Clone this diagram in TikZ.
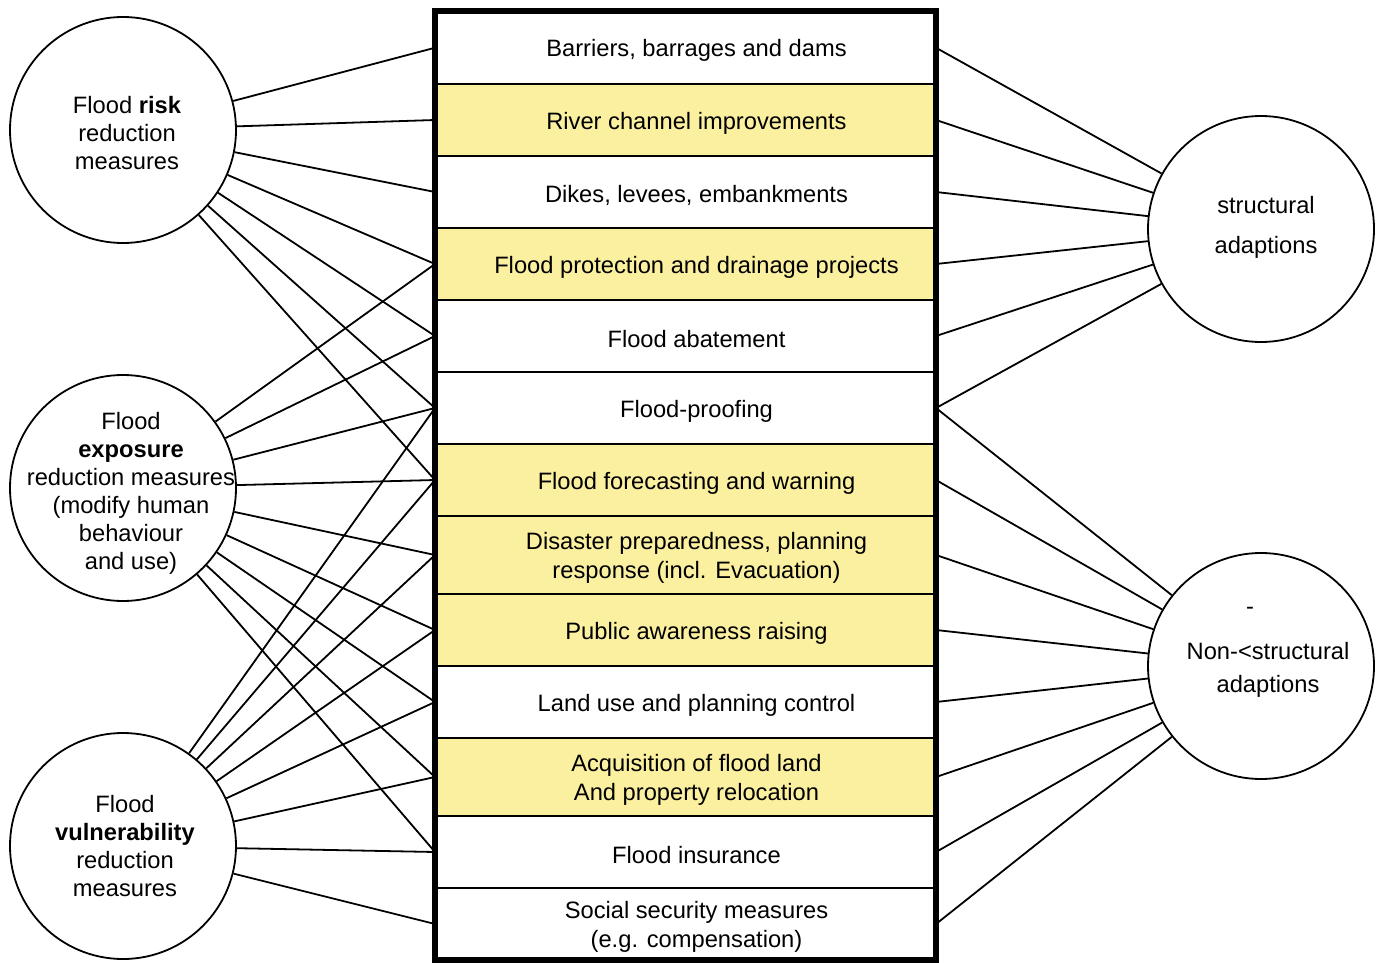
\documentclass[tikz,border=0pt]{standalone}
\usepackage{fontspec}
\setmainfont{Liberation Sans}
\begin{document}
\begin{tikzpicture}[x=1pt,y=-1pt,
  bubble/.style={circle, draw, line width=1.8pt, minimum size=226pt, inner sep=0pt},
  bubbletext/.style={align=center, inner sep=0pt, font=\fontsize{23.7pt}{28pt}\selectfont},
  row/.style={draw, line width=2.2pt, fill=white, minimum width=501pt, inner sep=0pt, outer sep=0pt},
  hirow/.style={row, fill=custcol_fb_f0_a0},
  rowtext/.style={align=center, inner sep=0pt, xshift=11pt, yshift=-3pt, font=\fontsize{23.7pt}{29pt}\selectfont},
  link/.style={line width=1.8pt}]
				\definecolor{custcol_fb_f0_a0}{RGB}{251, 240, 160}
				\useasboundingbox (0,0) rectangle (1379,963);
				% circles
				\node[bubble] (risk) at (123,130) {};
				\node[bubble] (expo) at (123,488) {};
				\node[bubble] (vuln) at (123,846) {};
				\node[bubble] (struct) at (1261,229) {};
				\node[bubble] (nonstruct) at (1261,666) {};
				\node[bubbletext] (risktxt) at (127,133) {Flood \textbf{risk}\\reduction\\measures};
				\node[bubbletext] (expotxt) at (131,493) {Flood\\\textbf{exposure}\\reduction measures\\(modify human\\behaviour\\and use)};
				\node[bubbletext] (vulntxt) at (125,846) {Flood\\\textbf{vulnerability}\\reduction\\measures};
				\node[bubbletext] (structtxt) at (1266,227) {structural\\[12pt]adaptions};
				\node[bubbletext] (nonstructtxt) at (1268,652) {\makebox[0pt]{-\hspace{36pt}}\\[17pt]Non-<structural\\[5pt]adaptions};
				% measures column
				\node[row, minimum height=72.5pt, label={[rowtext]center:Barriers, barrages and dams}] (r1) at (685.5,47.75) {};
				\node[hirow, minimum height=72pt, label={[rowtext]center:River channel improvements}] (r2) at (685.5,120) {};
				\node[row, minimum height=72pt, label={[rowtext]center:Dikes, levees, embankments}] (r3) at (685.5,192) {};
				\node[hirow, minimum height=72pt, label={[rowtext]center:Flood protection and drainage projects}] (r4) at (685.5,264) {};
				\node[row, minimum height=72pt, label={[rowtext]center:Flood abatement}] (r5) at (685.5,336) {};
				\node[row, minimum height=72pt, label={[rowtext]center:Flood-proofing}] (r6) at (685.5,408) {};
				\node[hirow, minimum height=72pt, label={[rowtext]center:Flood forecasting and warning}] (r7) at (685.5,480) {};
				\node[hirow, minimum height=78pt, label={[rowtext]center:{Disaster preparedness, planning\\response (incl. Evacuation)}}] (r8) at (685.5,555) {};
				\node[hirow, minimum height=72pt, label={[rowtext]center:Public awareness raising}] (r9) at (685.5,630) {};
				\node[row, minimum height=72pt, label={[rowtext]center:Land use and planning control}] (r10) at (685.5,702) {};
				\node[hirow, minimum height=78pt, label={[rowtext]center:{Acquisition of flood land\\And property relocation}}] (r11) at (685.5,777) {};
				\node[row, minimum height=72pt, label={[rowtext]center:Flood insurance}] (r12) at (685.5,852) {};
				\node[row, minimum height=72pt, label={[rowtext]center:{Social security measures\\(e.g. compensation)}}] (r13) at (685.5,924) {};
				\draw[line width=6pt] (r1.north west) rectangle (r13.south east);
				% risk links
				\draw[link] (risk) -- (r1.west);
				\draw[link] (risk) -- (r2.west);
				\draw[link] (risk) -- (r3.west);
				\draw[link] (risk) -- (r4.west);
				\draw[link] (risk) -- (r5.west);
				\draw[link] (risk) -- (r6.west);
				\draw[link] (risk) -- (r7.west);
				% exposure links
				\draw[link] (expo) -- (r4.west);
				\draw[link] (expo) -- (r5.west);
				\draw[link] (expo) -- (r6.west);
				\draw[link] (expo) -- (r7.west);
				\draw[link] (expo) -- (r8.west);
				\draw[link] (expo) -- (r9.west);
				\draw[link] (expo) -- (r10.west);
				\draw[link] (expo) -- (r11.west);
				\draw[link] (expo) -- (r12.west);
				% vulnerability links
				\draw[link] (vuln) -- (r6.west);
				\draw[link] (vuln) -- (r7.west);
				\draw[link] (vuln) -- (r8.west);
				\draw[link] (vuln) -- (r9.west);
				\draw[link] (vuln) -- (r10.west);
				\draw[link] (vuln) -- (r11.west);
				\draw[link] (vuln) -- (r12.west);
				\draw[link] (vuln) -- (r13.west);
				% structural links
				\draw[link] (r1.east) -- (struct);
				\draw[link] (r2.east) -- (struct);
				\draw[link] (r3.east) -- (struct);
				\draw[link] (r4.east) -- (struct);
				\draw[link] (r5.east) -- (struct);
				\draw[link] (r6.east) -- (struct);
				% non-structural links
				\draw[link] (r6.east) -- (nonstruct);
				\draw[link] (r7.east) -- (nonstruct);
				\draw[link] (r8.east) -- (nonstruct);
				\draw[link] (r9.east) -- (nonstruct);
				\draw[link] (r10.east) -- (nonstruct);
				\draw[link] (r11.east) -- (nonstruct);
				\draw[link] (r12.east) -- (nonstruct);
				\draw[link] (r13.east) -- (nonstruct);
			\end{tikzpicture}
\end{document}
